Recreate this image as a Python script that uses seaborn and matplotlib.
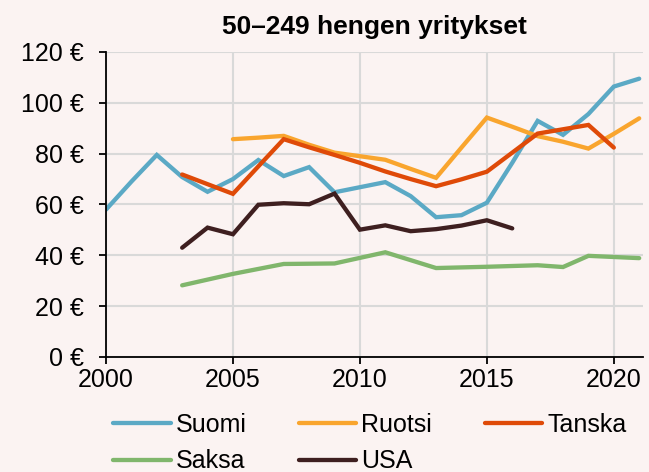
import pandas as pd
import numpy as np
import matplotlib.pyplot as plt
import seaborn as sns

# Data (EUR)
suomi_years = list(range(2000, 2022))
suomi = [58, 69, 79.5, 70.8, 65, 70, 77.5, 71.2, 74.7, 64.8, 66.8, 68.8,
         63.3, 55, 55.8, 60.7, 76.4, 92.9, 87.4, 95.6, 106.4, 109.5]

ruotsi_years = list(range(2005, 2022))
ruotsi = [85.7, 86.3, 87, 83.5, 80.4, 79, 77.6, 74, 70.5, 82.4, 94.2, 90.6,
          86.9, 84.7, 82, 87.8, 93.9]

tanska_years = list(range(2003, 2021))
tanska = [71.8, 68, 64.2, 75, 85.7, 82.5, 79.5, 76.4, 73, 70, 67.2, 69.9,
          72.9, 80.4, 87.9, 89.6, 91.3, 82.4]

saksa_years = [2003, 2005, 2007, 2009, 2011, 2013, 2015, 2017, 2018, 2019, 2021]
saksa = [28.2, 32.7, 36.6, 36.8, 41.2, 35, 35.5, 36.1, 35.4, 39.8, 38.9]

usa_years = list(range(2003, 2017))
usa = [43, 50.9, 48.3, 59.9, 60.5, 60.1, 64.3, 50.1, 51.8, 49.5, 50.3,
       51.7, 53.8, 50.6]

series = ["Suomi", "Ruotsi", "Tanska", "Saksa", "USA"]
colors = ["#5BA9C5", "#F9A52E", "#DF4A08", "#80B66C", "#3E1F20"]

# koko data pitkaan muotoon seabornia varten
frames = []
for name, yrs, vals in [("Suomi", suomi_years, suomi), ("Ruotsi", ruotsi_years, ruotsi),
                        ("Tanska", tanska_years, tanska), ("Saksa", saksa_years, saksa),
                        ("USA", usa_years, usa)]:
    frames.append(pd.DataFrame({"vuosi": yrs, "arvo": vals, "maa": name}))
df = pd.concat(frames, ignore_index=True)

bg = "#FBF3F2"
sns.set_style("white")
plt.rcParams["font.family"] = ["Liberation Sans", "DejaVu Sans"]
plt.rcParams["text.color"] = "black"
plt.rcParams["xtick.color"] = "black"
plt.rcParams["ytick.color"] = "black"

fig = plt.figure(figsize=(6.49, 4.72), dpi=100, facecolor=bg)
ax = fig.add_axes([106 / 649, 1 - 357 / 472, (643 - 106) / 649, (357 - 52) / 472])
ax.set_facecolor(bg)

sns.lineplot(data=df, x="vuosi", y="arvo", hue="maa", hue_order=series,
             palette=colors, linewidth=3.1, ax=ax, legend=True,
             solid_capstyle="round", solid_joinstyle="miter")

ax.set_xlim(2000, 2021.15)
ax.set_ylim(0, 120)
ax.set_xticks([2000, 2005, 2010, 2015, 2020])
ax.set_yticks(range(0, 121, 20))
ax.set_yticklabels([f"{v} €" for v in range(0, 121, 20)])
ax.grid(True, color="#D9D9D9", linewidth=1.5)
ax.set_axisbelow(True)
ax.set_xlabel("")
ax.set_ylabel("")
for s in ["top", "right"]:
    ax.spines[s].set_visible(False)
for s in ["left", "bottom"]:
    ax.spines[s].set_color("black")
    ax.spines[s].set_linewidth(1.3)
ax.tick_params(axis="both", which="both", direction="out", length=5, width=1.3,
               color="black", labelcolor="black", labelsize=18, left=True, bottom=True)
ax.tick_params(axis="y", pad=11)
ax.tick_params(axis="x", pad=3)

ax.set_title("50–249 hengen yritykset", fontsize=19, fontweight="bold", pad=13,
             color="black")

# legenda riveittain: Suomi Ruotsi Tanska / Saksa USA
handles, labels = ax.get_legend_handles_labels()
order = [0, 3, 1, 4, 2]
ax.legend_.remove()
fig.legend([handles[i] for i in order], [labels[i] for i in order],
           loc="upper left", bbox_to_anchor=(113 / 649, 1 - 413 / 472), ncol=3,
           frameon=False, fontsize=18, handlelength=2.3, columnspacing=2.1,
           handletextpad=0.2, labelspacing=0.5, borderpad=0, borderaxespad=0)

plt.savefig("out.png", dpi=100, facecolor=bg)
